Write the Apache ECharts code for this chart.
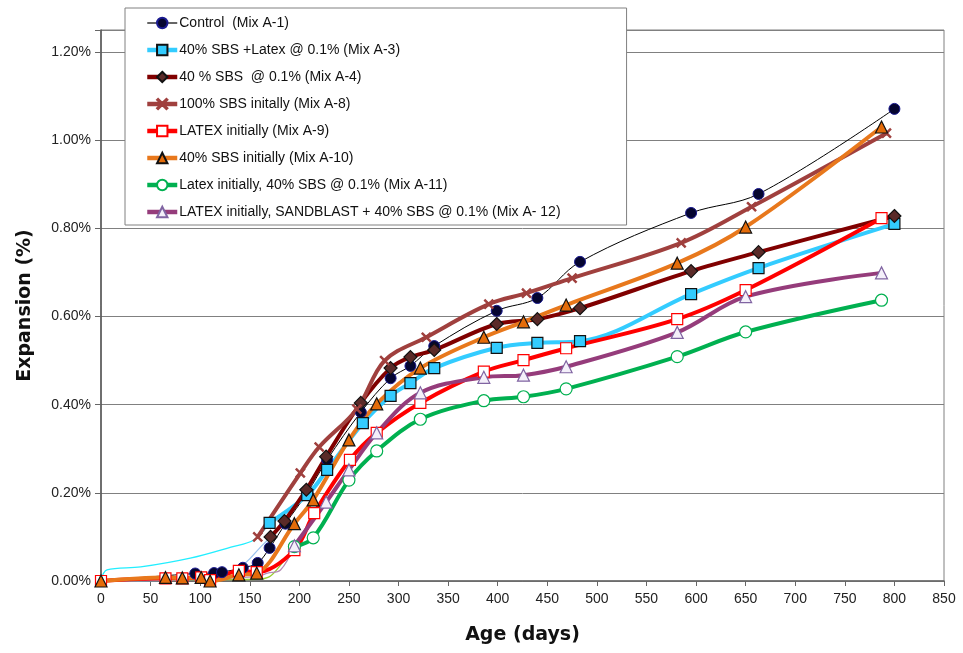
<!DOCTYPE html>
<html>
<head>
<meta charset="utf-8">
<title>Expansion vs Age</title>
<script src="https://cdn.jsdelivr.net/npm/echarts@6/dist/echarts.min.js"></script>
<style>
  html, body { margin: 0; padding: 0; background: #fff; }
  #chart { width: 963px; height: 653px; }
</style>
</head>
<body>
<div id="chart"></div>
<script>
// x ticks / y ticks
var xTicks = [0, 850, 50];
var yTicks = [0, 1.25, 0.2];

// Control (Mix A-1)
var a1Days = [0, 95, 114, 122, 143, 158, 170, 186, 208, 228, 262, 292, 312, 336, 399, 440, 483, 595, 663, 800];
var a1Vals = [0, 0.017, 0.018, 0.020, 0.030, 0.041, 0.075, 0.130, 0.200, 0.275, 0.383, 0.460, 0.488, 0.533, 0.613, 0.642, 0.724, 0.835, 0.878, 1.071];
// 40% SBS +Latex @ 0.1% (Mix A-3)
var a3Days = [170, 208, 228, 264, 292, 312, 336, 399, 440, 483, 595, 663, 800];
var a3Vals = [0.132, 0.195, 0.252, 0.358, 0.420, 0.449, 0.483, 0.529, 0.540, 0.544, 0.651, 0.710, 0.810];
// 40 % SBS @ 0.1% (Mix A-4)
var a4Days = [171, 185, 207, 227, 262, 292, 312, 336, 399, 440, 483, 595, 663, 800];
var a4Vals = [0.100, 0.136, 0.207, 0.282, 0.404, 0.483, 0.508, 0.524, 0.583, 0.594, 0.619, 0.703, 0.746, 0.828];
// 100% SBS initally (Mix A-8)
var a8Days = [158, 201, 220, 258, 286, 328, 391, 429, 475, 585, 656, 792];
var a8Vals = [0.100, 0.245, 0.304, 0.390, 0.500, 0.553, 0.628, 0.653, 0.687, 0.767, 0.849, 1.016];
// LATEX initially (Mix A-9)
var a9Days = [0, 65, 82, 101, 110, 139, 157, 195, 215, 251, 278, 322, 386, 426, 469, 581, 650, 787];
var a9Vals = [0, 0.006, 0.006, 0.008, 0.002, 0.023, 0.020, 0.070, 0.154, 0.275, 0.336, 0.404, 0.475, 0.501, 0.528, 0.594, 0.660, 0.823];
// 40% SBS initially (Mix A-10)
var a10Days = [0, 65, 82, 101, 110, 139, 157, 195, 214, 250, 278, 322, 386, 426, 469, 581, 650, 787];
var a10Vals = [0, 0.008, 0.007, 0.008, 0, 0.014, 0.018, 0.130, 0.184, 0.320, 0.402, 0.483, 0.553, 0.588, 0.626, 0.721, 0.803, 1.030];
// Latex initially, 40% SBS @ 0.1% (Mix A-11)
var a11Days = [195, 214, 250, 278, 322, 386, 426, 469, 581, 650, 787];
var a11Vals = [0.078, 0.098, 0.229, 0.295, 0.367, 0.409, 0.418, 0.436, 0.509, 0.565, 0.637];
// LATEX initially, SANDBLAST + 40% SBS @ 0.1% (Mix A- 12)
var a12Days = [195, 227, 250, 278, 322, 386, 426, 469, 581, 650, 787];
var a12Vals = [0.080, 0.179, 0.252, 0.336, 0.427, 0.462, 0.467, 0.486, 0.564, 0.645, 0.699];

// thin early-age lines (not in legend)
var cyanDays = [0, 6, 40, 90, 131, 154, 170];
var cyanVals = [0, 0.025, 0.032, 0.052, 0.077, 0.093, 0.132];
var blueDays = [0, 101, 139, 163, 171];
var blueVals = [0, 0.005, 0.030, 0.082, 0.100];
var limeDays = [0, 65, 101, 157, 170, 181, 195];
var limeVals = [0, 0.003, 0.003, 0.004, 0.010, 0.036, 0.078];
var lilacDays = [0, 101, 157, 168, 181, 195];
var lilacVals = [0, 0.005, 0.010, 0.018, 0.025, 0.080];

var names = [
  'Control  (Mix A-1)',
  '40% SBS +Latex @ 0.1% (Mix A-3)',
  '40 % SBS  @ 0.1% (Mix A-4)',
  '100% SBS initally (Mix A-8)',
  'LATEX initially (Mix A-9)',
  '40% SBS initially (Mix A-10)',
  'Latex initially, 40% SBS @ 0.1% (Mix A-11)',
  'LATEX initially, SANDBLAST + 40% SBS @ 0.1% (Mix A- 12)'
];

function zip(xs, ys) {
  return xs.map(function (x, i) { return [x, ys[i]]; });
}

var crossPath = 'path://M0,1L1,0L5,4L9,0L10,1L6,5L10,9L9,10L5,6L1,10L0,9L4,5Z';

function thick(name, days, vals, color, symbol, size, fill, border) {
  return {
    name: name, type: 'line', smooth: 0.35,
    data: zip(days, vals),
    symbol: symbol, symbolSize: size,
    lineStyle: { color: color, width: 4 },
    itemStyle: { color: fill, borderColor: border, borderWidth: 1.2 }
  };
}

function thin(days, vals, color) {
  return {
    name: '', type: 'line', smooth: 0.35, showSymbol: false,
    data: zip(days, vals),
    lineStyle: { color: color, width: 1.3 },
    itemStyle: { color: color }, z: 1
  };
}

// legend entries: thick icon lines except for the control
var legendData = names.map(function (n, i) {
  return { name: n, lineStyle: { width: i === 0 ? 1.2 : 4.5 } };
});

var chart = echarts.init(document.getElementById('chart'));
chart.setOption({
  animation: false,
  textStyle: { fontFamily: 'Liberation Sans' },
  grid: {
    left: 101, right: 19, top: 30, bottom: 72,
    show: true, borderColor: '#808080', borderWidth: 1
  },
  legend: {
    data: legendData,
    orient: 'vertical',
    left: 125, top: 8,
    padding: [7, 66, 5, 20],
    itemGap: 11,
    itemWidth: 30, itemHeight: 13,
    backgroundColor: '#fff',
    borderColor: '#808080', borderWidth: 1,
    textStyle: { fontSize: 14, color: '#111', lineHeight: 16, padding: [0, 0, 0, -3] }
  },
  xAxis: {
    type: 'value',
    min: xTicks[0], max: xTicks[1], interval: xTicks[2],
    name: 'Age (days)', nameLocation: 'middle', nameGap: 45,
    nameTextStyle: { fontFamily: 'DejaVu Sans', fontWeight: 'bold', fontSize: 19, color: '#111' },
    axisLine: { lineStyle: { color: '#666', width: 1.5 } },
    axisTick: { show: true, length: 5, lineStyle: { color: '#666' } },
    axisLabel: { fontSize: 14, color: '#222', margin: 11 },
    splitLine: { show: false }
  },
  yAxis: {
    type: 'value',
    min: yTicks[0], max: yTicks[1], interval: yTicks[2],
    name: 'Expansion (%)', nameLocation: 'middle', nameGap: 66,
    nameTextStyle: { fontFamily: 'DejaVu Sans', fontWeight: 'bold', fontSize: 19, color: '#111' },
    axisLine: { show: true, lineStyle: { color: '#555', width: 1.5 } },
    axisTick: { show: true, length: 6, lineStyle: { color: '#666' } },
    axisLabel: {
      fontSize: 14, color: '#222', margin: 10,
      formatter: function (v) { return v > 1.21 ? '' : v.toFixed(2) + '%'; }
    },
    splitLine: { show: true, lineStyle: { color: '#808080', width: 1 } }
  },
  series: [
    thin(cyanDays, cyanVals, '#22EEFF'),
    thin(blueDays, blueVals, '#9CC3EE'),
    thin(limeDays, limeVals, '#9ACD32'),
    thin(lilacDays, lilacVals, '#B58BB5'),
    {
      name: names[0], type: 'line', smooth: 0.35,
      data: zip(a1Days, a1Vals),
      symbol: 'circle', symbolSize: 11,
      lineStyle: { color: '#000', width: 1 },
      itemStyle: { color: '#050530', borderColor: '#1a1a90', borderWidth: 1 }
    },
    thick(names[1], a3Days, a3Vals, '#33CCFF', 'rect', 11, '#33CCFF', '#111'),
    thick(names[2], a4Days, a4Vals, '#800000', 'diamond', 13, '#5a2a28', '#111'),
    thick(names[3], a8Days, a8Vals, '#A0403E', crossPath, 9, '#A0403E', '#A0403E'),
    thick(names[4], a9Days, a9Vals, '#FF0000', 'rect', 11, '#fff', '#FF0000'),
    thick(names[5], a10Days, a10Vals, '#E8781C', 'triangle', 12, '#E46C0A', '#111'),
    thick(names[6], a11Days, a11Vals, '#00B050', 'circle', 12, '#fff', '#00B050'),
    thick(names[7], a12Days, a12Vals, '#953C7B', 'triangle', 12, '#F4F0FA', '#8064A2')
  ]
});
</script>
</body>
</html>
